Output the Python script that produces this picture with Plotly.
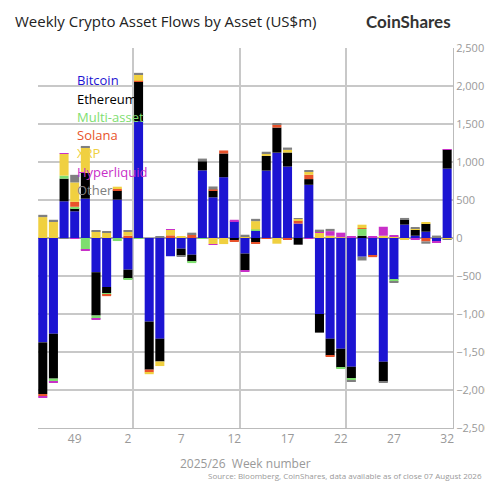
"""Weekly crypto asset flows by asset."""

import plotly.graph_objects as go

weeks = ["46", "47", "48", "49", "50", "51", "52"] + [str(w) for w in range(1, 33)]

bitcoin = [-1373, -1260, 483, 351, 518, -450, -645, 505, -417, 1536, -1100, -1325, -240, -140, -220,
           890, 535, 800, 220, -205, 97, 887, 1123, 940, 190, 700, -1000, -1325, -1457, -1694,
           -246, -232, -1628, -550, 176, 30, 83, -40, 913]
ethereum = [-680, -590, 298, 40, 338, -570, -80, 120, -120, 522, -632, -300, 0, -85, -90,
            120, 88, 312, -35, -220, -60, 193, 330, 185, -88, 75, -245, -220, -250, -150,
            30, 0, -263, 0, 66, 80, 105, 0, 250]
multi_asset = [0, -35, 40, 20, -155, -45, -20, -40, -12, -10, 0, 0, 0, -10, -20,
               -10, 0, 0, 0, 0, 15, 0, 0, 0, 0, 0, 0, 0, -15, -25,
               90, 0, 0, -25, 0, 0, 0, 0, 0]
solana = [-30, 0, 0, 65, 0, 0, -20, 25, 30, 10, -35, 0, 35, 0, 45,
          0, 15, 40, -10, 5, -10, -10, 40, -15, 40, 57, 0, -12, 0, 0,
          10, -20, 0, 0, 0, 0, -45, 0, 0]
xrp = [275, 215, 290, 255, 340, 90, 75, 25, 50, 80, -25, -60, 75, 25, 0,
       0, -80, -80, 0, 20, 110, 30, -75, 35, 22, 45, 70, 30, 10, 5,
       45, 0, 30, 20, -25, 12, 22, 10, -15]
hyperliquid = [-10, -12, 5, -10, -10, -12, 0, 0, 0, 0, 0, 5, 5, 0, 0,
               0, -10, 0, 20, -10, 0, 0, 0, 0, 0, -10, 18, 60, 60, 10,
               0, 15, 118, 15, 0, -15, 0, -22, 5]
other = [30, 25, -10, 100, 15, 10, 10, 0, 15, 25, 0, 10, 0, -5, 25,
         35, 40, 0, 0, 18, 30, 25, 18, 30, 10, 10, 22, 30, 0, -25,
         -50, 0, -10, -10, 22, 10, -30, 22, -10]

series = [
    ("Bitcoin", bitcoin, "#1c14d2"),
    ("Ethereum", ethereum, "#000000"),
    ("Multi-asset", multi_asset, "#7ede6f"),
    ("Solana", solana, "#e8522a"),
    ("XRP", xrp, "#f0d040"),
    ("Hyperliquid", hyperliquid, "#c830c8"),
    ("Other", other, "#808080"),
]

x = list(range(len(weeks)))
tick_weeks = ["49", "2", "7", "12", "17", "22", "27", "32"]

fig = go.Figure()
for name, vals, color in series:
    fig.add_trace(go.Bar(x=x, y=vals, name=name, marker=dict(color=color, line=dict(width=0)),
                         width=0.85, showlegend=False))

for i, (name, vals, color) in enumerate(series):
    fig.add_annotation(text=name, xref="paper", yref="paper", x=0.09, y=0.915 - i * 0.048,
                       xanchor="left", yanchor="middle", showarrow=False,
                       font=dict(color=color, size=13, family="Open Sans"))

fig.add_annotation(text="Weekly Crypto Asset Flows by Asset (US$m)", xref="paper", yref="paper",
                   x=-0.06, y=1.07, xanchor="left", yanchor="middle", showarrow=False,
                   font=dict(size=15, color="#222222", family="Open Sans"))
fig.add_annotation(text="<b>CoinShares</b>", xref="paper", yref="paper", x=1.0, y=1.07,
                   xanchor="right", yanchor="middle", showarrow=False,
                   font=dict(size=17, color="#333333", family="Lato"))
fig.add_annotation(text="2025/26  Week number", xref="paper", yref="paper", x=0.5, y=-0.093,
                   xanchor="center", yanchor="middle", showarrow=False,
                   font=dict(size=12, color="#999999", family="Open Sans"))
fig.add_annotation(text="Source: Bloomberg, CoinShares, data available as of close 07 August 2026",
                   xref="paper", yref="paper", x=1.075, y=-0.125, xanchor="right", yanchor="middle",
                   showarrow=False, font=dict(size=8, color="#999999", family="Open Sans"))

fig.update_layout(
    barmode="relative",
    width=493, height=485,
    margin=dict(l=30, r=48, t=40, b=65, autoexpand=False),
    plot_bgcolor="white", paper_bgcolor="white",
    bargap=0.15,
    font=dict(family="Open Sans", color="#999999"),
    xaxis=dict(
        range=[-0.45, 38.55],
        tickvals=[weeks.index(w) for w in tick_weeks], ticktext=tick_weeks,
        showgrid=False, zeroline=False, showline=True, linecolor="#bbbbbb",
        tickfont=dict(size=12, color="#999999"), ticks="",
        minor=dict(tick0=8.5, dtick=10, showgrid=True, gridcolor="#c8c8c8", gridwidth=1.5),
    ),
    yaxis=dict(
        side="right", range=[-2500, 2500], dtick=500, tickformat=",",
        gridcolor="#c8c8c8", gridwidth=1.5, zeroline=True, zerolinecolor="#aaaaaa",
        zerolinewidth=1.5, showline=True, linecolor="#bbbbbb",
        tickfont=dict(size=11, color="#999999"),
    ),
)

fig.write_html("out.html")
